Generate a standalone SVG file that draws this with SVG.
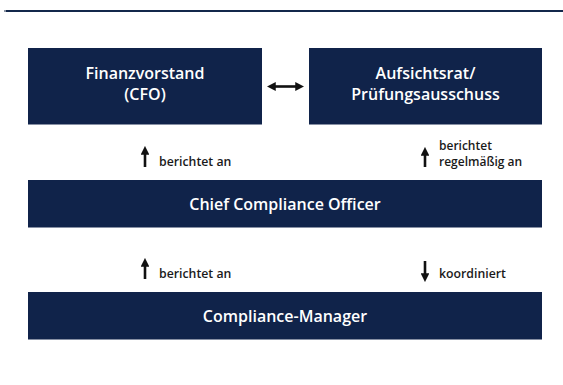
<svg xmlns="http://www.w3.org/2000/svg" width="563" height="385" viewBox="0 0 563 385">
  <style>
    .box { fill: #10234a; }
    .title { font-family: "Open Sans", "Noto Sans", "Liberation Sans", sans-serif; font-size: 16px; font-weight: 600; fill: #ffffff; text-anchor: middle; }
    .lbl { font-family: "Open Sans", "Noto Sans", "Liberation Sans", sans-serif; font-size: 12.3px; font-weight: 600; fill: #1a1a1a; }
    .arr { stroke: #111111; stroke-width: 2.6; fill: none; }
  </style>
  <defs>
    <marker id="ah" viewBox="0 0 10 10" refX="2" refY="5" markerWidth="3.4" markerHeight="3.4" orient="auto-start-reverse" markerUnits="strokeWidth">
      <path d="M0,0 L10,5 L0,10 Z" fill="#111111"/>
    </marker>
  </defs>
  <rect x="4" y="10" width="559" height="2" fill="#13284b"/>
  <rect x="4" y="10" width="2" height="2" fill="#8a93a3"/>

  <g id="cfo">
    <rect class="box" x="28" y="48" width="234" height="76.5"/>
    <text class="title" x="145" y="79">Finanzvorstand</text>
    <text class="title" x="145" y="100">(CFO)</text>
  </g>
  <g id="aufsichtsrat">
    <rect class="box" x="309" y="48" width="233" height="76.5"/>
    <text class="title" x="425.5" y="79">Aufsichtsrat/</text>
    <text class="title" x="425.5" y="100">Prüfungsausschuss</text>
  </g>
  <g id="cco">
    <rect class="box" x="28" y="180" width="514" height="47.5"/>
    <text class="title" x="285" y="210">Chief Compliance Officer</text>
  </g>
  <g id="manager">
    <rect class="box" x="28" y="292" width="514" height="47.5"/>
    <text class="title" x="285" y="321.5">Compliance-Manager</text>
  </g>

  <g id="connectors">
    <line class="arr" x1="274" y1="86.5" x2="297" y2="86.5" marker-start="url(#ah)" marker-end="url(#ah)"/>
    <line class="arr" x1="145" y1="167" x2="145" y2="153" marker-end="url(#ah)"/>
    <line class="arr" x1="425" y1="167" x2="425" y2="154" marker-end="url(#ah)"/>
    <line class="arr" x1="145" y1="279" x2="145" y2="265" marker-end="url(#ah)"/>
    <line class="arr" x1="425" y1="261" x2="425" y2="275" marker-end="url(#ah)"/>
  </g>

  <g id="labels">
    <text class="lbl" x="159" y="165.5">berichtet an</text>
    <text class="lbl" x="439" y="149.5" style="font-size:12px">berichtet</text>
    <text class="lbl" x="439" y="165.5" style="font-size:12px">regelmäßig an</text>
    <text class="lbl" x="159" y="277.5">berichtet an</text>
    <text class="lbl" x="439" y="277.5">koordiniert</text>
  </g>
</svg>
